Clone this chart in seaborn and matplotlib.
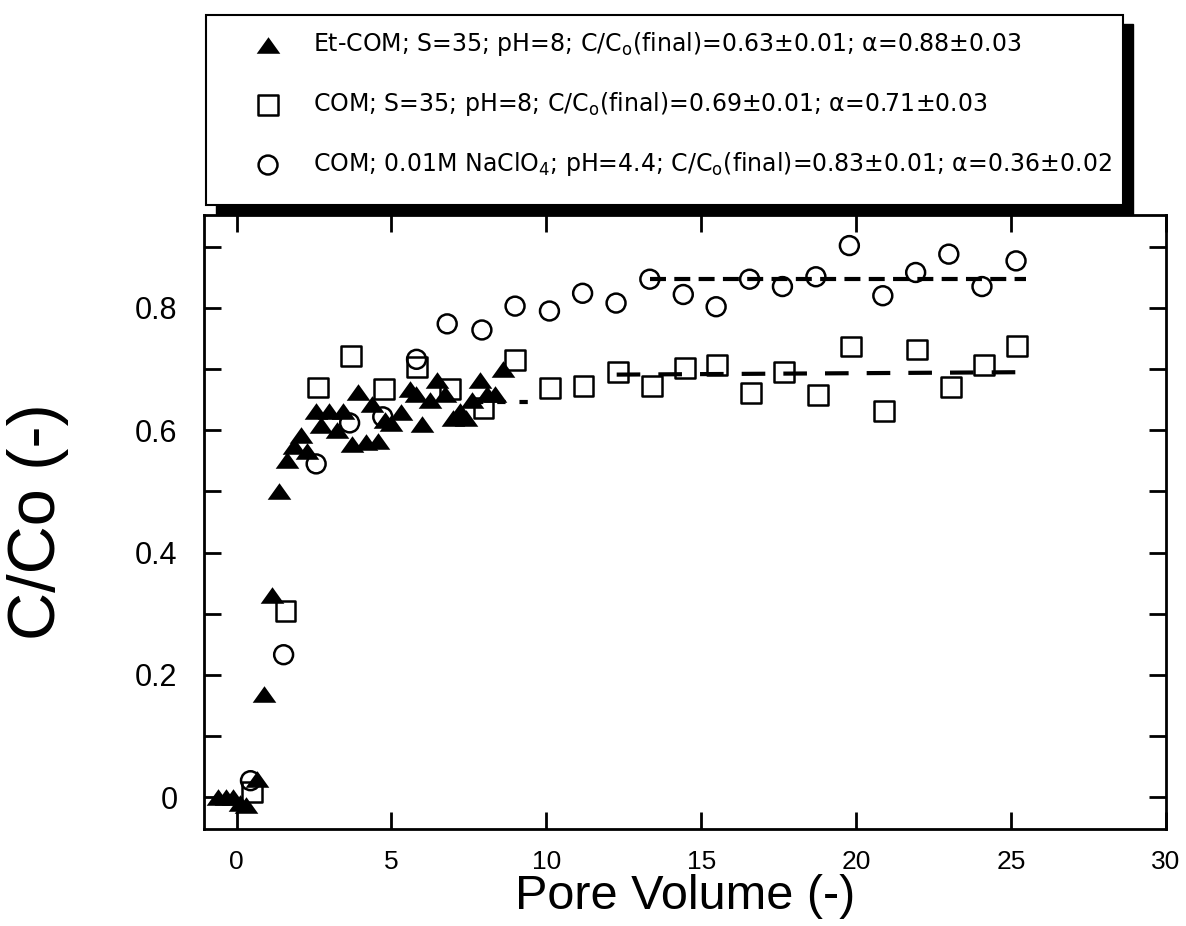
import numpy as np
import pandas as pd
import matplotlib
matplotlib.use("Agg")
import matplotlib.pyplot as plt
from matplotlib.patches import Rectangle
from matplotlib.ticker import MultipleLocator, FuncFormatter
import seaborn as sns

# Et-COM; S=35; pH=8  (filled triangles)
etcom_pv = [-0.6, -0.35, -0.1, 0.1, 0.3, 0.65, 0.9, 1.15, 1.38, 1.63,
            1.85, 2.08, 2.29, 2.56, 2.72, 2.99, 3.24, 3.45, 3.74, 3.93,
            4.17, 4.38, 4.58, 4.8, 5.0, 5.3, 5.6, 5.8, 6.0, 6.25,
            6.47, 6.74, 7.0, 7.2, 7.4, 7.6, 7.87, 8.08, 8.35, 8.6]
etcom_c = [0.0, 0.0, 0.0, -0.01, -0.012, 0.03, 0.168, 0.33, 0.50, 0.551,
           0.575, 0.593, 0.566, 0.631, 0.609, 0.631, 0.601, 0.631, 0.578, 0.662,
           0.581, 0.643, 0.582, 0.617, 0.612, 0.630, 0.668, 0.660, 0.611, 0.650,
           0.682, 0.659, 0.620, 0.632, 0.620, 0.650, 0.682, 0.659, 0.660, 0.700]

# COM; S=35; pH=8  (open squares)
com_pv = [0.5, 1.58, 2.64, 3.69, 4.76, 5.83, 6.88, 7.97, 9.0, 10.13,
          11.2, 12.3, 13.4, 14.48, 15.52, 16.6, 17.68, 18.77, 19.83, 20.9,
          21.97, 23.05, 24.13, 25.19]
com_c = [0.008, 0.305, 0.670, 0.721, 0.668, 0.703, 0.667, 0.636, 0.715, 0.669,
         0.673, 0.696, 0.672, 0.702, 0.706, 0.661, 0.696, 0.657, 0.737, 0.631,
         0.732, 0.671, 0.706, 0.738]

# COM; 0.01M NaClO4; pH=4.4  (open circles)
naclo_pv = [0.45, 1.52, 2.57, 3.65, 4.72, 5.81, 6.8, 7.92, 8.99, 10.1,
            11.17, 12.25, 13.34, 14.42, 15.48, 16.56, 17.62, 18.7, 19.78, 20.86,
            21.92, 22.99, 24.06, 25.16]
naclo_c = [0.027, 0.233, 0.545, 0.612, 0.622, 0.716, 0.774, 0.764, 0.803, 0.795,
           0.824, 0.808, 0.847, 0.822, 0.802, 0.847, 0.835, 0.851, 0.902, 0.820,
           0.858, 0.888, 0.835, 0.877]

# plateau fits: [start, end] pore volume and level
etcom_fit_pv = [7.7, 9.8]
etcom_fit_c = [0.647, 0.647]
com_fit_pv = [12.27, 25.49]
com_fit_c = [0.691, 0.695]
naclo_fit_pv = [13.34, 25.49]
naclo_fit_c = [0.847, 0.847]

labels = [
    r"Et-COM; S=35; pH=8; C/C$_{\mathrm{o}}$(final)=0.63±0.01; α=0.88±0.03",
    r"COM; S=35; pH=8; C/C$_{\mathrm{o}}$(final)=0.69±0.01; α=0.71±0.03",
    r"COM; 0.01M NaClO$_{\mathrm{4}}$; pH=4.4; C/C$_{\mathrm{o}}$(final)=0.83±0.01; α=0.36±0.02",
]

sns.set_theme(style="ticks")
plt.rcParams["font.family"] = ["Liberation Sans", "DejaVu Sans"]
plt.rcParams["lines.scale_dashes"] = False
plt.rcParams["axes.linewidth"] = 2
for key in ["text.color", "axes.labelcolor", "xtick.color", "ytick.color", "axes.edgecolor"]:
    plt.rcParams[key] = "black"

W, H = 1186, 926
fig = plt.figure(figsize=(W / 100, H / 100), dpi=100)
ax = fig.add_axes([204 / W, 1 - 829 / H, (1166 - 204) / W, (829 - 215) / H])

tri = [(0, 0.7), (-1, -0.7), (1, -0.7)]

sns.scatterplot(x=com_pv, y=com_c, marker="s", s=205, facecolor="none",
                edgecolor="black", linewidth=1.8, ax=ax, label=labels[1], zorder=3)
sns.scatterplot(x=naclo_pv, y=naclo_c, marker="o", s=185, facecolor="none",
                edgecolor="black", linewidth=1.8, ax=ax, label=labels[2], zorder=3)
sns.scatterplot(x=etcom_pv, y=etcom_c, marker=tri, s=290, color="black",
                edgecolor="black", linewidth=0, ax=ax, label=labels[0], zorder=4)

sns.lineplot(x=etcom_fit_pv, y=etcom_fit_c, color="black", lw=3,
             linestyle=(0, (6, 10)), ax=ax, zorder=2)
sns.lineplot(x=com_fit_pv, y=com_fit_c, color="black", lw=3,
             linestyle=(0, (17, 13)), ax=ax, zorder=2)
sns.lineplot(x=naclo_fit_pv, y=naclo_fit_c, color="black", lw=3,
             linestyle=(0, (11.5, 6)), ax=ax, zorder=2)

handles, labs = ax.get_legend_handles_labels()
if ax.get_legend() is not None:
    ax.get_legend().remove()
order = [labs.index(l) for l in labels]
handles = [handles[i] for i in order]

ax.set_xlim(-1.05, 30)
ax.set_ylim(-0.052, 0.952)
ax.xaxis.set_major_locator(MultipleLocator(5))
ax.yaxis.set_major_locator(MultipleLocator(0.2))
ax.yaxis.set_minor_locator(MultipleLocator(0.1))
ax.yaxis.set_major_formatter(FuncFormatter(lambda v, p: f"{v:g}"))
ax.tick_params(which="both", direction="in", length=12, width=2,
               top=True, right=True, colors="black")
ax.tick_params(axis="x", labelsize=19, pad=15)
ax.tick_params(axis="y", labelsize=22, pad=19)
for sp in ax.spines.values():
    sp.set_color("black")
    sp.set_linewidth(2)

ax.set_xlabel("Pore Volume (-)", fontsize=35, labelpad=0)
ax.set_ylabel("C/Co (-)", fontsize=48)
ax.yaxis.set_label_coords(-0.14, 0.5)

# legend box with a solid drop shadow above the axes
bx0, by0, bx1, by1 = 206, 15, 1123, 205
fig.add_artist(Rectangle(((bx0 + 10) / W, 1 - (by1 + 9) / H), (bx1 - bx0) / W,
                         (by1 - by0) / H, transform=fig.transFigure,
                         facecolor="black", edgecolor="black", zorder=5))
fig.add_artist(Rectangle((bx0 / W, 1 - by1 / H), (bx1 - bx0) / W, (by1 - by0) / H,
                         transform=fig.transFigure, facecolor="white",
                         edgecolor="black", linewidth=1.5, zorder=6))
leg = fig.legend(handles, labels, loc="upper left",
                 bbox_to_anchor=(256 / W, 1 - 30 / H), frameon=False,
                 prop={"family": "DejaVu Sans", "size": 17},
                 handlelength=1.02, handletextpad=1.4, labelspacing=1.36,
                 borderpad=0, borderaxespad=0, scatterpoints=1)
leg.set_zorder(7)

fig.savefig("out.png", dpi=100)
